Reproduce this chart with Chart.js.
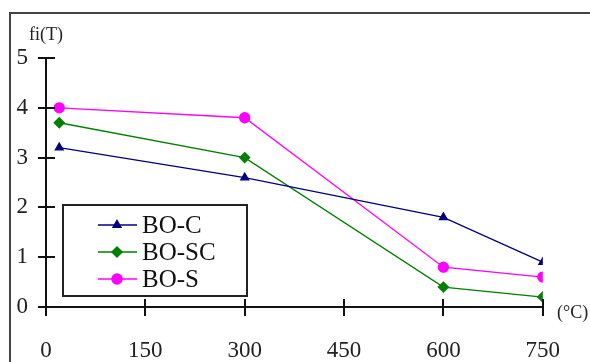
<!DOCTYPE html>
<html>
<head>
<meta charset="utf-8">
<style>
  body { margin: 0; background: #fff; }
  #wrap { width: 590px; height: 362px; position: relative; }
</style>
<script src="https://cdn.jsdelivr.net/npm/chart.js@4"></script>
</head>
<body>
<div id="wrap"><canvas id="fiChart"></canvas></div>
<script>
const temps = [20, 300, 600, 750];
const boC = [3.2, 2.6, 1.8, 0.9];
const boSC = [3.7, 3.0, 0.4, 0.2];
const boS = [4.0, 3.8, 0.8, 0.6];
const xTicks = [0, 150, 300, 450, 600, 750];
const yTicks = [0, 1, 2, 3, 4, 5];

const serif = '"Liberation Serif", "Times New Roman", serif';

function pts(ys) {
  return temps.map((t, i) => ({ x: t, y: ys[i] }));
}

// outer frame, axis cross ticks, axis captions and the boxed legend
const decor = {
  id: 'decor',
  beforeDraw(chart) {
    const ctx = chart.ctx;
    ctx.save();
    ctx.fillStyle = '#fff';
    ctx.fillRect(0, 0, chart.width, chart.height);
    ctx.strokeStyle = '#444';
    ctx.lineWidth = 2;
    ctx.beginPath();
    ctx.moveTo(chart.width + 5, 13);
    ctx.lineTo(10, 13);
    ctx.lineTo(10, chart.height + 5);
    ctx.stroke();
    ctx.restore();
  },
  afterDraw(chart) {
    const ctx = chart.ctx;
    const xs = chart.scales.x, ys = chart.scales.y;
    const area = chart.chartArea;
    ctx.save();
    ctx.strokeStyle = '#111';
    ctx.lineWidth = 2;
    ctx.beginPath();
    yTicks.forEach(v => {
      const py = Math.round(ys.getPixelForValue(v));
      ctx.moveTo(area.left - 8, py);
      ctx.lineTo(area.left + 9, py);
    });
    xTicks.forEach(v => {
      const px = Math.round(xs.getPixelForValue(v));
      ctx.moveTo(px, area.bottom - 8);
      ctx.lineTo(px, area.bottom + 9);
    });
    ctx.stroke();

    ctx.fillStyle = '#222';
    ctx.textBaseline = 'alphabetic';
    ctx.textAlign = 'left';
    ctx.font = '18px ' + serif;
    ctx.fillText('fi(T)', 29, 40);
    ctx.fillText('(\u00b0C)', 557, 318);

    // legend
    const bx = 63, by = 205, bw = 184, bh = 91;
    ctx.fillStyle = '#fff';
    ctx.fillRect(bx, by, bw, bh);
    ctx.strokeStyle = '#222';
    ctx.lineWidth = 2;
    ctx.strokeRect(bx, by, bw, bh);
    const rows = [225, 252, 279];
    chart.data.datasets.forEach((ds, i) => {
      const ry = rows[i];
      ctx.strokeStyle = ds.borderColor;
      ctx.lineWidth = 1.5;
      ctx.beginPath();
      ctx.moveTo(98, ry);
      ctx.lineTo(137, ry);
      ctx.stroke();
      Chart.helpers.drawPoint(ctx, {
        pointStyle: ds.pointStyle,
        radius: ds.pointRadius,
        rotation: 0,
        borderWidth: 1
      }, 117, ry);
      ctx.fillStyle = ds.borderColor;
      ctx.fill();
      ctx.fillStyle = '#111';
      ctx.font = '25px ' + serif;
      ctx.textBaseline = 'middle';
      ctx.fillText(ds.label, 142, ry + 1);
    });
    ctx.restore();
  }
};

new Chart(document.getElementById('fiChart'), {
  type: 'line',
  data: {
    datasets: [
      {
        label: 'BO-C',
        data: pts(boC),
        borderColor: '#000080',
        backgroundColor: '#000080',
        pointStyle: 'triangle',
        pointRadius: 4.5,
        borderWidth: 1.3
      },
      {
        label: 'BO-SC',
        data: pts(boSC),
        borderColor: '#008000',
        backgroundColor: '#008000',
        pointStyle: 'rectRot',
        pointRadius: 5,
        borderWidth: 1.3
      },
      {
        label: 'BO-S',
        data: pts(boS),
        borderColor: '#ff00ff',
        backgroundColor: '#ff00ff',
        pointStyle: 'circle',
        pointRadius: 5,
        borderWidth: 1.3
      }
    ]
  },
  options: {
    responsive: true,
    maintainAspectRatio: false,
    animation: false,
    layout: { padding: { top: 58, right: 46, left: 0, bottom: 0 } },
    plugins: {
      legend: { display: false },
      tooltip: { enabled: false }
    },
    scales: {
      x: {
        type: 'linear',
        min: 0,
        max: 750,
        afterFit: s => { s.height = 55; },
        afterBuildTicks: s => { s.ticks = xTicks.map(v => ({ value: v })); },
        grid: { display: false, drawTicks: false },
        border: { display: true, color: '#111', width: 2 },
        ticks: {
          padding: 30,
          color: '#222',
          font: { family: serif, size: 23 },
          maxRotation: 0
        }
      },
      y: {
        min: 0,
        max: 5,
        afterFit: s => { s.width = 46; },
        afterBuildTicks: s => { s.ticks = yTicks.map(v => ({ value: v })); },
        grid: { display: false, drawTicks: false },
        border: { display: true, color: '#111', width: 2 },
        ticks: {
          padding: 18,
          color: '#222',
          font: { family: serif, size: 23 }
        }
      }
    }
  },
  plugins: [decor]
});
</script>
</body>
</html>
